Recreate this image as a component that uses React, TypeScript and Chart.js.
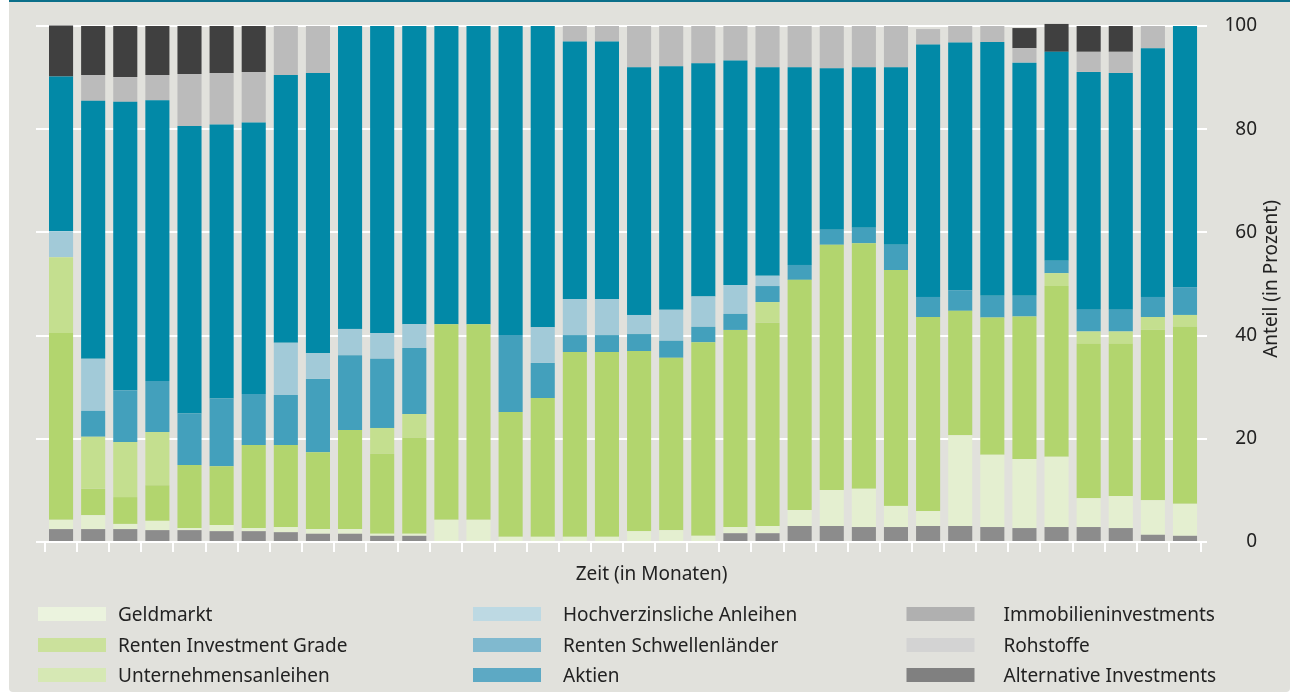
import React, { useEffect, useRef } from 'react';
import { Chart, registerables } from 'chart.js';

Chart.register(...registerables);

// ---------- data ----------
const months = [1, 2, 3, 4, 5, 6, 7, 8, 9, 10, 11, 12, 13, 14, 15, 16, 17, 18, 19, 20, 21, 22, 23, 24, 25, 26, 27, 28, 29, 30, 31, 32, 33, 34, 35, 36];

const immobilien = [2.5, 2.5, 2.5, 2.3, 2.3, 2.1, 2.1, 1.9, 1.6, 1.6, 1.2, 1.2, 0, 0, 0, 0, 0, 0, 0, 0, 0, 1.7, 1.7, 3.1, 3.1, 2.9, 2.9, 3.1, 3.1, 2.9, 2.7, 2.9, 2.9, 2.7, 1.4, 1.2];
const geldmarkt = [1.8, 2.7, 1.0, 1.8, 0.4, 1.2, 0.6, 1.0, 0.9, 0.9, 0.4, 0.4, 4.3, 4.3, 1.0, 1.0, 1.0, 1.0, 2.1, 2.3, 1.2, 1.2, 1.4, 3.1, 7.0, 7.4, 4.1, 2.9, 17.6, 14.0, 13.4, 13.6, 5.6, 6.2, 6.7, 6.2];
const rentenIG = [36.2, 5.1, 5.2, 6.9, 12.2, 11.4, 16.1, 15.9, 14.9, 19.2, 15.5, 18.6, 37.9, 37.9, 24.2, 26.9, 35.8, 35.8, 34.9, 33.4, 37.5, 38.2, 39.4, 44.6, 47.5, 47.6, 45.7, 37.6, 24.1, 26.6, 27.6, 33.1, 29.9, 29.5, 33.0, 34.3];
const unternehmensanleihen = [14.7, 10.1, 10.7, 10.3, 0, 0, 0, 0, 0, 0, 5.0, 4.6, 0, 0, 0, 0, 0, 0, 0, 0, 0, 0, 4.0, 0, 0, 0, 0, 0, 0, 0, 0, 2.5, 2.4, 2.4, 2.5, 2.3];
const schwellenlaender = [0, 5.0, 10.0, 9.9, 10.0, 13.1, 9.9, 9.7, 14.2, 14.5, 13.4, 12.8, 0, 0, 14.9, 6.8, 3.3, 3.3, 3.3, 3.3, 3.0, 3.1, 3.1, 2.9, 2.9, 3.0, 4.9, 3.9, 4.0, 4.2, 4.0, 2.4, 4.2, 4.2, 3.9, 5.4];
const hochverzinslich = [5.0, 10.1, 0, 0, 0, 0, 0, 10.1, 5.0, 5.1, 5.0, 4.6, 0, 0, 0, 6.9, 7.0, 7.0, 3.7, 6.0, 5.9, 5.6, 2.0, 0, 0, 0, 0, 0, 0, 0, 0, 0, 0, 0, 0, 0];
const aktien = [30.0, 50.0, 55.9, 54.4, 55.7, 53.1, 52.6, 51.9, 54.3, 58.7, 59.5, 57.8, 57.8, 57.8, 59.9, 58.4, 49.9, 49.9, 48.0, 47.2, 45.2, 43.5, 40.4, 38.3, 31.3, 31.1, 34.4, 48.9, 48.0, 49.2, 45.2, 40.5, 46.1, 45.9, 48.2, 50.6];
const rohstoffe = [0, 5.0, 4.8, 4.9, 10.1, 10.0, 9.8, 9.5, 9.1, 0, 0, 0, 0, 0, 0, 0, 3.0, 3.0, 8.0, 7.8, 7.2, 6.7, 8.0, 8.0, 8.2, 8.0, 8.0, 3.0, 3.2, 3.1, 2.8, 0, 3.9, 4.1, 4.3, 0];
const alternative = [9.9, 9.5, 9.9, 9.5, 9.3, 9.1, 8.9, 0, 0, 0, 0, 0, 0, 0, 0, 0, 0, 0, 0, 0, 0, 0, 0, 0, 0, 0, 0, 0, 0, 0, 3.9, 5.4, 5.0, 5.0, 0, 0];

const yTickValues = [0, 20, 40, 60, 80, 100];

// stacking order bottom -> top
const seriesNames = [
  'Immobilieninvestments',
  'Geldmarkt',
  'Renten Investment Grade',
  'Unternehmensanleihen',
  'Renten Schwellenländer',
  'Hochverzinsliche Anleihen',
  'Aktien',
  'Rohstoffe',
  'Alternative Investments',
];
const seriesValues = [immobilien, geldmarkt, rentenIG, unternehmensanleihen, schwellenlaender, hochverzinslich, aktien, rohstoffe, alternative];
const barColors = ['#8c8c8c', '#e4efd0', '#b2d56e', '#c4df8f', '#43a0bc', '#a2cad8', '#0289a7', '#bbbbbb', '#404040'];
const legendColors: Record<string, string> = {
  'Geldmarkt': '#ebf3de',
  'Renten Investment Grade': '#cbe19c',
  'Unternehmensanleihen': '#d6e8b4',
  'Hochverzinsliche Anleihen': '#bdd9e3',
  'Renten Schwellenländer': '#80b9cf',
  'Aktien': '#5da9c4',
  'Immobilieninvestments': '#b0b0b0',
  'Rohstoffe': '#d3d3d3',
  'Alternative Investments': '#808080',
};
const legendColumns = [
  ['Geldmarkt', 'Renten Investment Grade', 'Unternehmensanleihen'],
  ['Hochverzinsliche Anleihen', 'Renten Schwellenländer', 'Aktien'],
  ['Immobilieninvestments', 'Rohstoffe', 'Alternative Investments'],
];
const xTitle = 'Zeit (in Monaten)';
const yTitle = 'Anteil (in Prozent)';

const FONT = '"Noto Sans", sans-serif';
const TEXT = '#222222';

const decorPlugin = {
  id: 'decor',
  afterDraw(chart: any) {
    const ctx = chart.ctx as CanvasRenderingContext2D;
    ctx.save();
    ctx.font = `19px ${FONT}`;
    ctx.fillStyle = TEXT;
    ctx.textBaseline = 'middle';
    ctx.textAlign = 'center';
    ctx.fillText(xTitle, 642.5, 572.5);

    ctx.save();
    ctx.translate(1263, 277);
    ctx.rotate(-Math.PI / 2);
    ctx.fillText(yTitle, 0, 0);
    ctx.restore();

    // legend
    const colSwatchX = [29, 464, 897.5];
    const colTextX = [109, 554, 994.5];
    const rowY = [612, 643, 673];
    ctx.textAlign = 'left';
    legendColumns.forEach((col, ci) => {
      col.forEach((name, ri) => {
        ctx.fillStyle = legendColors[name];
        ctx.fillRect(colSwatchX[ci], rowY[ri] - 7, 68, 14);
        ctx.fillStyle = TEXT;
        ctx.fillText(name, colTextX[ci], rowY[ri] + 1.5);
      });
    });
    ctx.restore();
  },
};

export default function App() {
  const canvasRef = useRef<HTMLCanvasElement | null>(null);

  useEffect(() => {
    const canvas = canvasRef.current;
    if (!canvas) return;
    Chart.defaults.font.family = FONT;

    const datasets = seriesNames.map((name, si) => ({
      label: name,
      data: months.map((m, i) => ({ x: m, y: seriesValues[si][i] })),
      backgroundColor: barColors[si],
      borderWidth: 0,
      categoryPercentage: 1,
      barPercentage: 0.75,
      clip: false as any,
    }));

    const chart = new Chart(canvas, {
      type: 'bar',
      data: { datasets },
      plugins: [decorPlugin],
      options: {
        animation: false,
        responsive: false,
        maintainAspectRatio: false,
        devicePixelRatio: 1,
        layout: { padding: { left: 27, top: 24, right: 33, bottom: 140 } },
        plugins: {
          legend: { display: false },
          tooltip: { enabled: false },
          title: { display: false },
        },
        scales: {
          x: {
            type: 'linear',
            stacked: true,
            min: 0.22,
            max: 36.685,
            offset: false,
            grid: {
              drawOnChartArea: false,
              drawTicks: true,
              tickLength: 10,
              color: '#ffffff',
              lineWidth: 2,
            },
            border: { display: false },
            ticks: { display: false, stepSize: 1, includeBounds: false, autoSkip: false },
          },
          y: {
            position: 'right',
            stacked: true,
            min: 0,
            max: 100,
            grid: { color: '#ffffff', lineWidth: 2, drawTicks: false },
            border: { display: false },
            afterBuildTicks: (scale: any) => {
              scale.ticks = yTickValues.map((v) => ({ value: v }));
            },
            afterFit: (scale: any) => {
              scale.width = 50;
            },
            ticks: {
              padding: 6,
              crossAlign: 'far',
              color: TEXT,
              font: { size: 19, family: FONT },
            },
          },
        },
      } as any,
    });

    return () => chart.destroy();
  }, []);

  return (
    <div
      style={{
        position: 'fixed',
        left: 9,
        top: 0,
        width: 1281,
        height: 690,
        borderTop: '2px solid #0b6f8a',
        background: '#e1e1dc',
        borderBottomLeftRadius: 4,
        borderBottomRightRadius: 4,
      }}
    >
      <canvas ref={canvasRef} width={1281} height={690} style={{ display: 'block', width: 1281, height: 690 }} />
    </div>
  );
}
